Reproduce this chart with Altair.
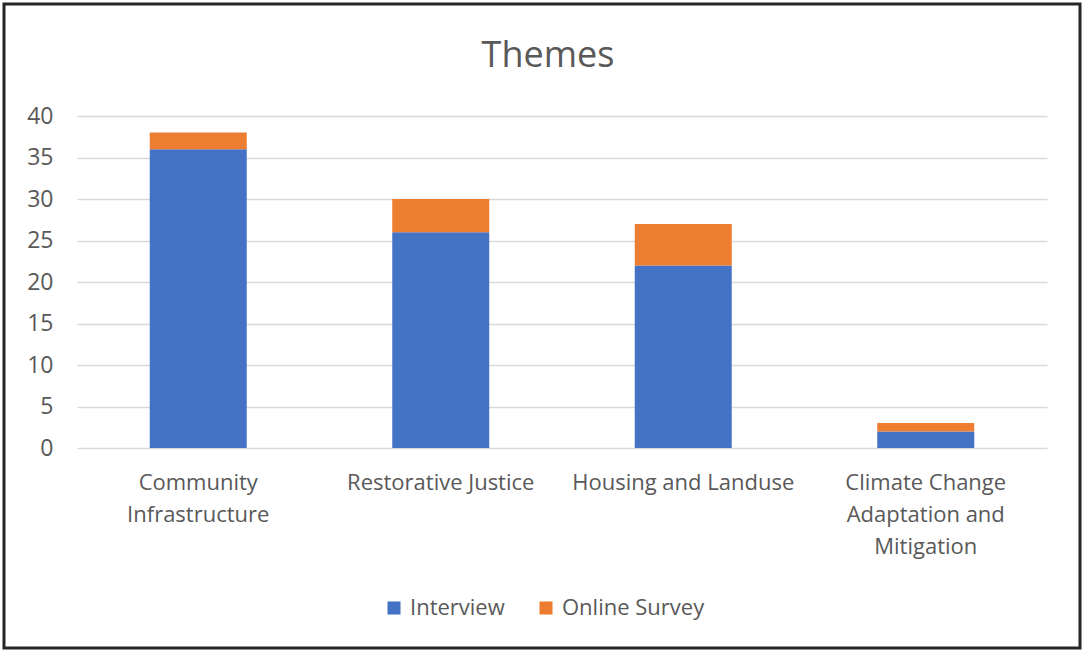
import altair as alt
import pandas as pd

themes = ["Community Infrastructure", "Restorative Justice", "Housing and Landuse",
          "Climate Change Adaptation and Mitigation"]
interview = [36, 26, 22, 2]
online_survey = [2, 4, 5, 1]
series = ["Interview", "Online Survey"]
colors = ["#4472C4", "#ED7D31"]
title_text = ["Themes"]

rows = []
for t, a, b in zip(themes, interview, online_survey):
    rows.append({"Theme": t, "Source": series[0], "Count": a, "ord": 0})
    rows.append({"Theme": t, "Source": series[1], "Count": b, "ord": 1})
df = pd.DataFrame(rows)

FONT = "Open Sans"
GREY = "#595959"

label_expr = (
    "datum.label == 'Community Infrastructure' ? ['Community', 'Infrastructure'] : "
    "datum.label == 'Climate Change Adaptation and Mitigation' ? ['Climate Change', 'Adaptation and', 'Mitigation'] : "
    "datum.label"
)

bars = alt.Chart(df).mark_bar(size=97).encode(
    x=alt.X("Theme:N", sort=themes, title=None,
            scale=alt.Scale(paddingInner=0.6, paddingOuter=0.3),
            axis=alt.Axis(labelAngle=0, labelExpr=label_expr, labelFontSize=22,
                          labelColor=GREY, labelFont=FONT, ticks=False, domain=False,
                          grid=False, labelPadding=24, labelLineHeight=32, labelLimit=300)),
    y=alt.Y("Count:Q", title=None,
            scale=alt.Scale(domain=[0, 40], nice=False),
            axis=alt.Axis(values=[0, 5, 10, 15, 20, 25, 30, 35, 40], labelFontSize=23,
                          labelColor=GREY, labelFont=FONT, ticks=False, domain=False,
                          labelPadding=24, grid=True, gridColor="#D9D9D9", gridWidth=1.5)),
    color=alt.Color("Source:N", scale=alt.Scale(domain=series, range=colors),
                    legend=alt.Legend(title=None, orient="none", direction="horizontal",
                                      legendX=306, legendY=481, symbolType="square",
                                      symbolSize=170, symbolStrokeWidth=0,
                                      labelFontSize=22, labelColor=GREY, labelFont=FONT,
                                      columnPadding=30, labelOffset=5)),
    order=alt.Order("ord:Q", sort="ascending"),
)

title = alt.Chart(pd.DataFrame({"t": title_text})).mark_text(
    fontSize=36, font=FONT, color=GREY, align="center", baseline="middle"
).encode(x=alt.value(471), y=alt.value(-60), text="t:N")

border = alt.Chart(pd.DataFrame({"a": [0]})).mark_rect(
    fill=None, stroke="#262626", strokeWidth=3
).encode(
    x=alt.value(-73), x2=alt.value(1003), y=alt.value(-112), y2=alt.value(532)
)

chart = alt.layer(bars, title, border).properties(
    width=970, height=332,
    padding={"left": 77, "top": 116, "right": 37, "bottom": 208},
    autosize=alt.AutoSizeParams(type="none"),
    view=alt.ViewBackground(strokeOpacity=0, strokeWidth=0),
).configure_view(strokeWidth=0, strokeOpacity=0).configure_axisX(grid=False).configure(background="white")

chart.save("out.html", embed_options={"renderer": "svg", "actions": False})
